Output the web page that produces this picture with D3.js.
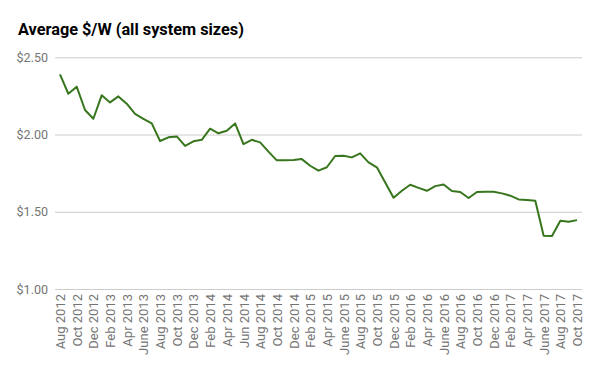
<!DOCTYPE html>
<html><head><meta charset="utf-8">
<script src="https://cdn.jsdelivr.net/npm/d3@7"></script>
<style>body{margin:0;background:#fff}svg{display:block}</style>
</head><body>
<svg id="c" width="600" height="371"></svg>
<script>
const title = "Average $/W (all system sizes)";
const categories = [
"Aug 2012","Sep 2012","Oct 2012","Nov 2012","Dec 2012",
"Jan 2013","Feb 2013","Mar 2013","Apr 2013","May 2013","June 2013","Jul 2013","Aug 2013","Sep 2013","Oct 2013","Nov 2013","Dec 2013",
"Jan 2014","Feb 2014","Mar 2014","Apr 2014","May 2014","Jun 2014","Jul 2014","Aug 2014","Sep 2014","Oct 2014","Nov 2014","Dec 2014",
"Jan 2015","Feb 2015","Mar 2015","Apr 2015","May 2015","June 2015","Jul 2015","Aug 2015","Sep 2015","Oct 2015","Nov 2015","Dec 2015",
"Jan 2016","Feb 2016","Mar 2016","Apr 2016","May 2016","June 2016","Jul 2016","Aug 2016","Sep 2016","Oct 2016","Nov 2016","Dec 2016",
"Jan 2017","Feb 2017","Mar 2017","Apr 2017","May 2017","June 2017","Jul 2017","Aug 2017","Sep 2017","Oct 2017"];
const values = [
2.39,2.264,2.31,2.159,2.102,
2.254,2.208,2.247,2.20,2.133,2.102,2.072,1.958,1.982,1.988,1.926,1.956,
1.966,2.038,2.008,2.025,2.072,1.938,1.966,1.949,1.889,1.833,1.833,1.835,
1.841,1.798,1.766,1.788,1.861,1.863,1.852,1.878,1.82,1.788,1.69,1.591,
1.636,1.675,1.655,1.636,1.666,1.677,1.634,1.628,1.589,1.628,1.630,1.630,
1.619,1.604,1.58,1.576,1.571,1.345,1.343,1.442,1.435,1.446];
const yTicks = [1.0, 1.5, 2.0, 2.5];
const xTickLabels = categories.filter((d,i)=>i%2===0);

const svg = d3.select("#c");
const font = "Roboto, Arial, sans-serif";
const x = d3.scalePoint().domain(categories).range([60, 577]);
const y = d3.scaleLinear().domain([1.0, 2.5]).range([289, 57.3]);

svg.append("text").attr("x",18).attr("y",35).attr("font-family",font)
  .attr("font-weight","bold").attr("font-size",16.3).attr("fill","#000").text(title);

// grid + y axis
const yAxis = d3.axisLeft(y).tickValues(yTicks).tickSize(-527)
  .tickFormat(d=>"$"+d3.format(".2f")(d)).tickPadding(7);
const gy = svg.append("g").attr("transform","translate(55,0)").call(yAxis);
gy.select(".domain").remove();
gy.selectAll("line").attr("stroke","#cccccc").attr("stroke-width",1);
gy.selectAll("text").attr("font-family",font).attr("font-size",12.5).attr("fill","#757575");

// x axis labels
const xAxis = d3.axisBottom(x).tickValues(xTickLabels).tickSize(0).tickPadding(0);
const gx = svg.append("g").attr("transform","translate(0,289)").call(xAxis);
gx.select(".domain").remove();
gx.selectAll("text").attr("font-family",font).attr("font-size",13).attr("fill","#757575")
  .attr("transform","rotate(-90)").attr("text-anchor","end")
  .attr("dx","-5").attr("dy","0.35em").attr("y",0).attr("x",0);

const line = d3.line().x((d,i)=>x(categories[i])).y(d=>y(d));
svg.append("path").datum(values).attr("d",line).attr("fill","none")
  .attr("stroke","#38761d").attr("stroke-width",2).attr("stroke-linejoin","round");
</script>
</body></html>
